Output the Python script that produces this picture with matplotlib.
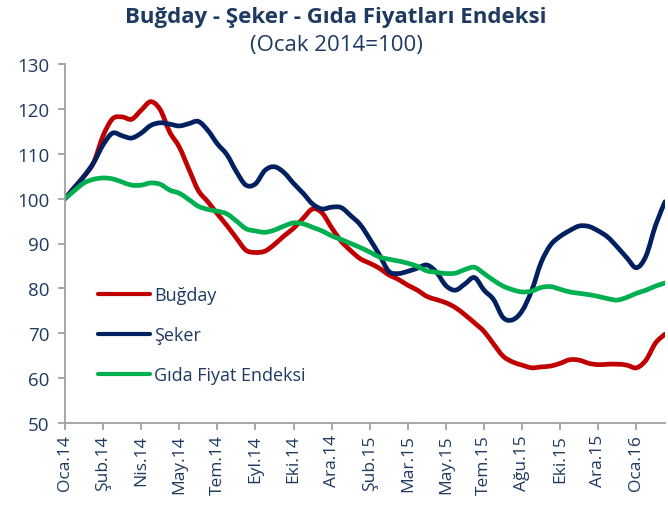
import matplotlib
matplotlib.use("Agg")
import matplotlib.pyplot as plt
from matplotlib.path import Path
from matplotlib.patches import PathPatch
from matplotlib.lines import Line2D
import numpy as np

tick_labels = ["Oca.14", "Şub.14", "Nis.14", "May.14", "Tem.14", "Eyl.14", "Eki.14", "Ara.14",
               "Şub.15", "Mar.15", "May.15", "Tem.15", "Ağu.15", "Eki.15", "Ara.15", "Oca.16"]

# observation positions in tick units (quarter-tick sampling)
obs_pos = [i * 0.25 for i in range(64)]

bugday = [100, 102.5, 105.0, 108.0, 114.0, 117.8, 118.2, 117.7, 119.7, 121.6,
          119.8, 114.8, 111.5, 106.6, 101.8, 99.3, 96.6, 94.0, 91.2, 88.5,
          88.0, 88.3, 89.8, 91.7, 93.4, 95.6, 97.7, 96.8, 93.5, 90.5,
          88.4, 86.6, 85.6, 84.5, 83.0, 82.0, 80.7, 79.6, 78.2, 77.5,
          76.8, 75.7, 74.1, 72.3, 70.4, 67.6, 64.9, 63.6, 62.9, 62.3,
          62.5, 62.7, 63.3, 64.1, 64.0, 63.3, 63.0, 63.1, 63.1, 62.9,
          62.3, 64.0, 67.8, 69.8]

seker = [100, 102.5, 105.0, 108.0, 112.0, 114.6, 114.0, 113.5, 114.6, 116.3,
         116.9, 116.6, 116.2, 116.7, 117.2, 115.2, 112.2, 109.8, 106.0, 103.0,
         103.3, 106.3, 107.1, 105.8, 103.4, 101.2, 98.8, 97.7, 98.1, 98.0,
         96.2, 94.2, 91.0, 87.5, 83.8, 83.3, 83.8, 84.5, 85.2, 83.6,
         80.6, 79.6, 81.0, 82.4, 79.6, 77.5, 73.5, 73.0, 75.0, 79.5,
         85.8, 89.7, 91.6, 92.9, 93.9, 93.8, 92.8, 91.4, 89.2, 86.8,
         84.6, 87.2, 94.0, 99.3]

gida = [100, 101.8, 103.5, 104.3, 104.6, 104.4, 103.7, 103.0, 103.0, 103.5,
        103.2, 101.9, 101.2, 99.8, 98.3, 97.6, 97.2, 96.6, 95.0, 93.3,
        92.8, 92.5, 93.0, 93.9, 94.6, 94.4, 93.6, 92.8, 91.7, 90.9,
        90.0, 89.1, 88.1, 87.0, 86.5, 86.1, 85.6, 84.9, 83.9, 83.6,
        83.3, 83.4, 84.2, 84.7, 83.3, 81.8, 80.5, 79.7, 79.2, 79.4,
        80.2, 80.4, 79.8, 79.2, 78.9, 78.6, 78.2, 77.7, 77.4, 78.0,
        78.9, 79.6, 80.5, 81.2]

series_names = ["Buğday", "Şeker", "Gıda Fiyat Endeksi"]
colors = ["#C00000", "#002060", "#00B050"]

text_color = "#1F3A60"
font = ["Open Sans", "DejaVu Sans"]
plt.rcParams["font.family"] = font


def smooth_path(xs, ys):
    """Catmull-Rom style smoothed line through the data points (as Bezier path)."""
    p = np.column_stack([xs, ys]).astype(float)
    n = len(p)
    verts = [p[0]]
    codes = [Path.MOVETO]
    for i in range(n - 1):
        p0 = p[i - 1] if i > 0 else p[i]
        p1 = p[i]
        p2 = p[i + 1]
        p3 = p[i + 2] if i + 2 < n else p[i + 1]
        c1 = p1 + (p2 - p0) / 6.0
        c2 = p2 - (p3 - p1) / 6.0
        verts += [c1, c2, p2]
        codes += [Path.CURVE4] * 3
    return Path(verts, codes)


fig = plt.figure(figsize=(6.68, 5.06), dpi=100)
ax = fig.add_axes([65 / 668, 82 / 506, 600 / 668, 359 / 506])

handles = []
for vals, name, c in zip([bugday, seker, gida], series_names, colors):
    patch = PathPatch(smooth_path(obs_pos, vals), facecolor="none", edgecolor=c,
                      lw=3.4, joinstyle="round", capstyle="round",
                      transform=ax.transData)
    ax.add_patch(patch)
    handles.append(Line2D([], [], color=c, lw=3.0, solid_capstyle="round", label=name))

ax.set_xlim(0, 15.75)
ax.set_ylim(50, 130)
ax.set_yticks(range(50, 131, 10))
ax.set_xticks(range(len(tick_labels)))
ax.set_xticklabels(tick_labels, rotation=90)

for s in ["top", "right"]:
    ax.spines[s].set_visible(False)
for s in ["left", "bottom"]:
    ax.spines[s].set_color("#A0A0A0")
    ax.spines[s].set_linewidth(1.3)

ax.tick_params(axis="both", colors="#A0A0A0", length=5, width=1.3,
               labelcolor=text_color, direction="out")
ax.tick_params(axis="y", pad=6, labelsize=13.5)
ax.tick_params(axis="x", pad=3, labelsize=12.5)

leg = ax.legend(handles=handles, loc="center left", bbox_to_anchor=(0.04, 0.244),
                frameon=False, fontsize=13, handlelength=2.9, handletextpad=0.2,
                labelspacing=1.22, borderpad=0)
for t in leg.get_texts():
    t.set_color(text_color)

fig.text(0.502, 1 - 17 / 506, "Buğday - Şeker - Gıda Fiyatları Endeksi",
         ha="center", va="center", fontsize=16, fontweight="bold", color=text_color)
fig.text(0.503, 1 - 46 / 506, "(Ocak 2014=100)",
         ha="center", va="center", fontsize=16, color=text_color)

fig.savefig("out.png", dpi=100)
